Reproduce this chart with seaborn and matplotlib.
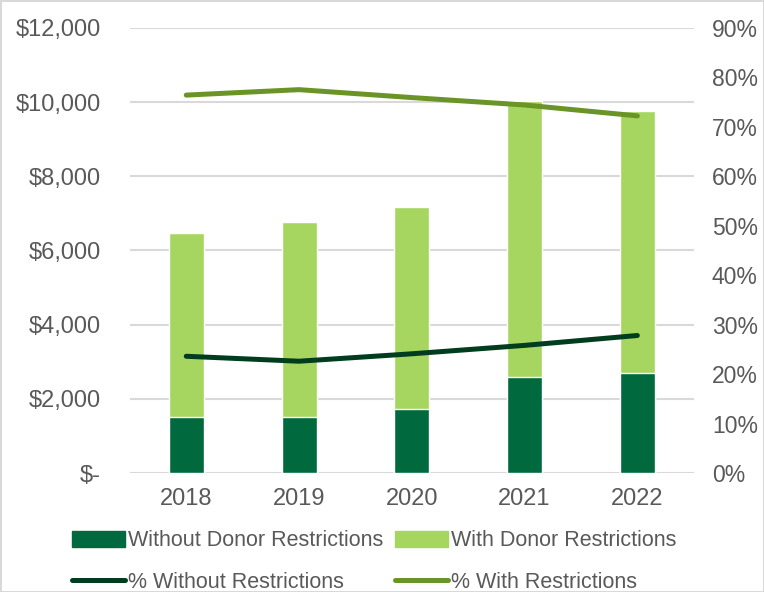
import numpy as np
import pandas as pd
import seaborn as sns
import matplotlib.pyplot as plt
from matplotlib.patches import Patch
from matplotlib.lines import Line2D
from matplotlib.ticker import FuncFormatter, MultipleLocator

years = ["2018", "2019", "2020", "2021", "2022"]
without_restr = [1510, 1510, 1726, 2589, 2697]
with_restr = [4962, 5259, 5447, 7442, 7065]
pct_without = [23.6, 22.6, 24.1, 25.8, 27.8]
pct_with = [76.4, 77.5, 75.9, 74.4, 72.2]

dark_bar = "#00693E"
light_bar = "#A6D65F"
dark_line = "#003D1F"
light_line = "#6B9426"
grey = "#595959"

sns.set_style("white")
plt.rcParams["font.family"] = ["Liberation Sans", "DejaVu Sans"]

df = pd.DataFrame({"year": years, "without": without_restr, "with": with_restr})
df["total"] = df["without"] + df["with"]

fig = plt.figure(figsize=(7.64, 5.92), dpi=100)
fig.patch.set_edgecolor("#d9d9d9")
fig.patch.set_linewidth(2)
ax = fig.add_axes([0.170, 0.201, 0.738, 0.752])

sns.barplot(data=df, x="year", y="total", color=light_bar, width=0.31,
            saturation=1, ax=ax, zorder=2)
sns.barplot(data=df, x="year", y="without", color=dark_bar, width=0.31,
            saturation=1, ax=ax, zorder=3)

ax.set_ylim(0, 12000)
ax.set_xlim(-0.5, 4.5)
ax.yaxis.set_major_locator(MultipleLocator(2000))
ax.yaxis.set_major_formatter(FuncFormatter(lambda v, p: "$-" if v == 0 else f"${v:,.0f}"))
ax.grid(axis="y", color="#d9d9d9", lw=1.5, zorder=0)
ax.set_axisbelow(True)
for s in ax.spines.values():
    s.set_visible(False)
ax.set_xlabel("")
ax.set_ylabel("")
ax.tick_params(axis="x", length=0, labelsize=17, labelcolor=grey, pad=11)
ax.tick_params(axis="y", length=0, labelsize=17, labelcolor=grey, pad=21)

ax2 = ax.twinx()
xs = np.arange(len(years))
sns.lineplot(x=xs, y=pct_without, color=dark_line, lw=3.6, ax=ax2,
             solid_capstyle="round", zorder=4)
sns.lineplot(x=xs, y=pct_with, color=light_line, lw=3.6, ax=ax2,
             solid_capstyle="round", zorder=4)
ax2.set_ylim(0, 90)
ax2.yaxis.set_major_locator(MultipleLocator(10))
ax2.yaxis.set_major_formatter(FuncFormatter(lambda v, p: f"{v:.0f}%"))
for s in ax2.spines.values():
    s.set_visible(False)
ax2.tick_params(axis="y", length=0, labelsize=16.5, labelcolor=grey, pad=13)
ax2.set_ylabel("")

handles = [
    Patch(color=dark_bar), Line2D([], [], color=dark_line, lw=3.6, solid_capstyle="round"),
    Patch(color=light_bar), Line2D([], [], color=light_line, lw=3.6, solid_capstyle="round"),
]
labels = ["Without Donor Restrictions", "% Without Restrictions",
          "With Donor Restrictions", "% With Restrictions"]
leg = fig.legend(handles, labels, ncol=2, loc="lower left",
                 bbox_to_anchor=(0.0695, -0.034), frameon=False, fontsize=15.5,
                 handlelength=2.45, handleheight=0.75, handletextpad=0.15,
                 columnspacing=0.53, labelspacing=0.95)
for t in leg.get_texts():
    t.set_color(grey)

fig.savefig("out.png", dpi=100)
